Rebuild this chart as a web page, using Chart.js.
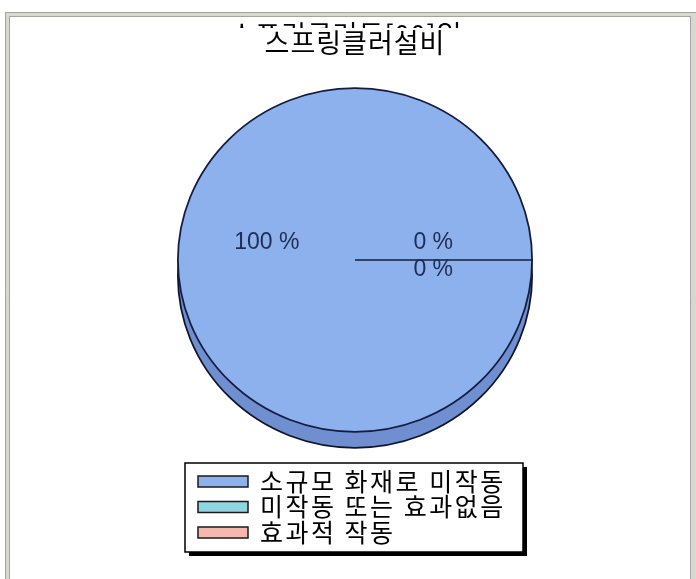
<!DOCTYPE html>
<html>
<head>
<meta charset="utf-8">
<script src="https://cdn.jsdelivr.net/npm/chart.js@4/dist/chart.umd.min.js"></script>
<style>
  html, body { margin: 0; padding: 0; background: #fff; }
  canvas { display: block; }
</style>
</head>
<body>
<canvas id="chart" width="696" height="579"></canvas>
<script>
const categories = ["소규모 화재로 미작동", "미작동 또는 효과없음", "효과적 작동"];
const percentValues = [100, 0, 0];
const sliceColors = ["#8db1ec", "#8fd6e0", "#f4b8ae"];
const chartTitle = "스프링클러설비";
const hiddenTitle = "스프링클러동[00]일"; // mostly clipped in the original

const KR = '"Noto Sans CJK KR", "Noto Sans", sans-serif';
const SQUASH = 0.97;   // pie is a slightly flattened ellipse
const DEPTH = 16;      // 3d rim height in px

// grey double frame + white background
const framePlugin = {
  id: "frame",
  beforeDraw(chart) {
    const ctx = chart.ctx;
    ctx.save();
    ctx.fillStyle = "#fff";
    ctx.fillRect(0, 0, chart.width, chart.height);
    ctx.fillStyle = "#d8d8d0";
    ctx.fillRect(5, 12, chart.width - 5, 5);
    ctx.fillRect(5, 12, 5, chart.height - 12);
    ctx.fillRect(chart.width - 5, 12, 5, chart.height - 12);
    ctx.strokeStyle = "#a4a49c";
    ctx.lineWidth = 1;
    ctx.beginPath();
    ctx.moveTo(5.5, chart.height); ctx.lineTo(5.5, 12.5); ctx.lineTo(chart.width, 12.5);
    ctx.moveTo(9.5, chart.height); ctx.lineTo(9.5, 16.5); ctx.lineTo(chart.width - 5.5, 16.5);
    ctx.lineTo(chart.width - 5.5, chart.height);
    ctx.stroke();
    ctx.restore();
  }
};

// flatten the pie and draw the darker rim underneath
const depthPlugin = {
  id: "depth",
  beforeDatasetsDraw(chart) {
    const arc = chart.getDatasetMeta(0).data[0];
    const ctx = chart.ctx;
    ctx.save();
    ctx.translate(arc.x, arc.y);
    ctx.scale(1, SQUASH);
    ctx.translate(-arc.x, -arc.y);
    ctx.beginPath();
    ctx.arc(arc.x, arc.y + DEPTH / SQUASH, arc.outerRadius, 0, Math.PI * 2);
    ctx.fillStyle = "#6f8fd0";
    ctx.fill();
    ctx.lineWidth = 1.8;
    ctx.strokeStyle = "#10162a";
    ctx.stroke();
  },
  afterDatasetsDraw(chart) {
    const ctx = chart.ctx;
    ctx.restore();
    // percent labels
    const meta = chart.getDatasetMeta(0);
    const total = percentValues.reduce((a, b) => a + b, 0);
    const placed = [];
    ctx.save();
    ctx.font = '23px "Liberation Sans", Arial, sans-serif';
    ctx.fillStyle = "#1f2c55";
    ctx.textAlign = "center";
    ctx.textBaseline = "middle";
    meta.data.forEach((arc, i) => {
      const mid = (arc.startAngle + arc.endAngle) / 2;
      const x = arc.x + Math.cos(mid) * arc.outerRadius * 0.47 - 5;
      let y = arc.y + Math.sin(mid) * arc.outerRadius * 0.47 * SQUASH - 17;
      while (placed.some(p => Math.abs(p.x - x) < 60 && Math.abs(p.y - y) < 22)) y += 27;
      placed.push({ x, y });
      ctx.fillText(Math.round(percentValues[i] / total * 100) + " %", x, y);
    });
    ctx.restore();
  }
};

// titles and the boxed legend
const decorPlugin = {
  id: "decor",
  afterDraw(chart) {
    const ctx = chart.ctx;
    ctx.save();
    ctx.font = "27px " + KR;
    ctx.fillStyle = "#000";
    ctx.textAlign = "center";
    ctx.textBaseline = "middle";
    ctx.letterSpacing = "1px";
    ctx.save();
    ctx.beginPath();
    ctx.rect(10, 17, chart.width - 20, 11);
    ctx.clip();
    ctx.fillText(hiddenTitle, 346, 35);
    ctx.restore();
    ctx.fillText(chartTitle, 355, 43);

    // legend box with black drop shadow
    const bx = 185, by = 463, bw = 338, bh = 89;
    ctx.fillStyle = "#000";
    ctx.fillRect(bx + 4, by + 4, bw, bh);
    ctx.fillStyle = "#fff";
    ctx.fillRect(bx, by, bw, bh);
    ctx.strokeStyle = "#000";
    ctx.lineWidth = 1.5;
    ctx.strokeRect(bx, by, bw, bh);
    ctx.textAlign = "left";
    ctx.font = "25px " + KR;
    ctx.letterSpacing = "2.5px";
    categories.forEach((label, i) => {
      const y = 481 + i * 25.5;
      ctx.fillStyle = sliceColors[i];
      ctx.fillRect(198, y - 5, 50, 11);
      ctx.strokeStyle = "#1a1a1a";
      ctx.lineWidth = 1.5;
      ctx.strokeRect(198, y - 5, 50, 11);
      ctx.fillStyle = "#000";
      ctx.fillText(label, 260, y);
    });
    ctx.restore();
  }
};

new Chart(document.getElementById("chart"), {
  type: "pie",
  data: {
    labels: categories,
    datasets: [{
      data: percentValues,
      backgroundColor: sliceColors,
      borderColor: "#141c40",
      borderWidth: 1.8
    }]
  },
  options: {
    responsive: false,
    animation: false,
    rotation: 90,
    layout: { padding: { left: 177, right: 163, top: 82, bottom: 141 } },
    plugins: {
      legend: { display: false },
      title: { display: false },
      tooltip: { enabled: false }
    }
  },
  plugins: [framePlugin, depthPlugin, decorPlugin]
});
</script>
</body>
</html>
